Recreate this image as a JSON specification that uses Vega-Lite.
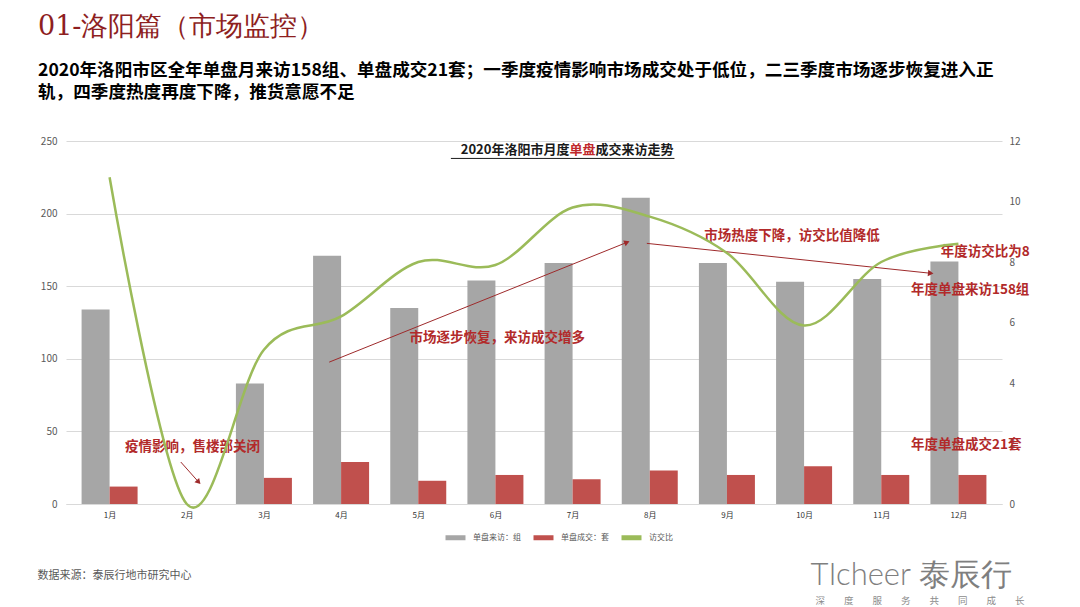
{
  "$schema": "https://vega.github.io/schema/vega-lite/v6.json",
  "width": 936,
  "height": 363,
  "autosize": {"type": "none"},
  "padding": {"left": 66, "top": 141, "right": 78, "bottom": 103},
  "background": "white",
  "config": {"view": {"stroke": null}, "font": "Noto Sans CJK SC"},
  "title": {
    "text": "01-洛阳篇（市场监控）",
    "subtitle": ["2020年洛阳市区全年单盘月来访158组、单盘成交21套；一季度疫情影响市场成交处于低位，二三季度市场逐步恢复进入正", "轨，四季度热度再度下降，推货意愿不足"],
    "anchor": "start",
    "frame": "group",
    "dx": -28,
    "offset": 33,
    "font": "DejaVu Serif",
    "fontSize": 27,
    "fontWeight": "normal",
    "color": "#8E1F1F",
    "subtitleFont": "Noto Sans CJK SC",
    "subtitleFontSize": 17.6,
    "subtitleFontWeight": "bold",
    "subtitleColor": "#000000",
    "subtitleLineHeight": 22,
    "subtitlePadding": 21
  },
  "datasets": {
    "monthly": [
      {"month": 1, "visits": 134, "deals": 12, "ratio": 10.8},
      {"month": 2, "visits": 0, "deals": 0, "ratio": 0},
      {"month": 3, "visits": 83, "deals": 18, "ratio": 5.1},
      {"month": 4, "visits": 171, "deals": 29, "ratio": 6.2},
      {"month": 5, "visits": 135, "deals": 16, "ratio": 8.0},
      {"month": 6, "visits": 154, "deals": 20, "ratio": 7.9},
      {"month": 7, "visits": 166, "deals": 17, "ratio": 9.8},
      {"month": 8, "visits": 211, "deals": 23, "ratio": 9.5},
      {"month": 9, "visits": 166, "deals": 20, "ratio": 8.3},
      {"month": 10, "visits": 153, "deals": 26, "ratio": 5.9},
      {"month": 11, "visits": 155, "deals": 20, "ratio": 8.0},
      {"month": 12, "visits": 167, "deals": 20, "ratio": 8.6}
    ],
    "notes": [
      {"label": "疫情影响，售楼部关闭", "month": 1.2, "value": 39.2},
      {"label": "市场逐步恢复，来访成交增多", "month": 4.885, "value": 114.2},
      {"label": "市场热度下降，访交比值降低", "month": 8.705, "value": 184.3},
      {"label": "年度访交比为8", "month": 11.77, "value": 173.3},
      {"label": "年度单盘来访158组", "month": 11.385, "value": 147.2},
      {"label": "年度单盘成交21套", "month": 11.385, "value": 40.6}
    ],
    "arrows": [
      {"month": 3.846, "value": 97.7, "month2": 7.705, "value2": 180.2},
      {"month": 7.962, "value": 179.5, "month2": 11.641, "value2": 158.9},
      {"month": 1.923, "value": 28.9, "month2": 2.154, "value2": 15.1}
    ],
    "heads1": [{"month": 7.705, "value": 180.2}],
    "heads2": [{"month": 11.641, "value": 158.9}],
    "heads3": [{"month": 2.154, "value": 15.1}],
    "chartTitleLeft": [{"label": "2020年洛阳市月度", "month": 7.128, "value": 243.5}],
    "chartTitleMid": [{"label": "单盘", "month": 7.128, "value": 243.5}],
    "chartTitleRight": [{"label": "成交来访走势", "month": 7.128, "value": 243.5}],
    "underline": [{"month": 5.423, "month2": 8.32, "value": 238}]
  },
  "layer": [
    {
      "layer": [
        {
          "data": {"name": "monthly"},
          "mark": {"type": "bar", "width": 28, "xOffset": -14},
          "encoding": {
            "x": {
              "field": "month", "type": "quantitative",
              "scale": {"domain": [0.5, 12.5], "nice": false, "zero": false},
              "axis": {
                "values": [1, 2, 3, 4, 5, 6, 7, 8, 9, 10, 11, 12],
                "labelExpr": "datum.value + '月'",
                "grid": false, "ticks": false, "domain": true, "domainColor": "#D9D9D9",
                "labelFontSize": 8, "labelColor": "#333333", "labelPadding": 7,
                "title": "数据来源：泰辰行地市研究中心",
                "titleAnchor": "start", "titleAlign": "left", "titleBaseline": "middle",
                "titleX": -29, "titleY": 71, "titleFontSize": 11, "titleFontWeight": "normal",
                "titleColor": "#595959"
              }
            },
            "y": {
              "field": "visits", "type": "quantitative",
              "scale": {"domain": [0, 250], "nice": false},
              "axis": {
                "values": [0, 50, 100, 150, 200, 250],
                "domain": false, "ticks": false, "grid": true, "gridColor": "#D9D9D9",
                "labelFontSize": 10, "labelColor": "#595959", "labelPadding": 9,
                "title": "深　　度　　服　　务　　共　　同　　成　　长",
                "titleAngle": 0, "titleAlign": "left", "titleBaseline": "middle",
                "titleX": 749, "titleY": 459, "titleFontSize": 9.5, "titleFontWeight": "normal",
                "titleColor": "#8C8C8C"
              }
            },
            "color": {
              "datum": "单盘来访：组",
              "scale": {
                "domain": ["单盘来访：组", "单盘成交：套", "访交比"],
                "range": ["#A6A6A6", "#C0504D", "#9BBB59"]
              },
              "legend": {
                "orient": "none", "legendX": 377, "legendY": 384,
                "direction": "horizontal", "title": null,
                "symbolType": "stroke", "symbolStrokeWidth": 5, "symbolSize": 400,
                "labelFontSize": 8, "labelColor": "#595959", "labelOffset": 5, "columnPadding": 2,
                "encode": {"symbols": {"update": {"stroke": {"scale": "color", "field": "value"}, "strokeWidth": {"value": 5}}}}
              }
            }
          }
        },
        {
          "data": {"name": "monthly"},
          "mark": {"type": "bar", "width": 28, "xOffset": 14},
          "encoding": {
            "x": {"field": "month", "type": "quantitative", "scale": {"domain": [0.5, 12.5], "nice": false, "zero": false}},
            "y": {"field": "deals", "type": "quantitative", "scale": {"domain": [0, 250], "nice": false}},
            "color": {"datum": "单盘成交：套"}
          }
        },
        {
          "mark": {"type": "rule", "strokeDash": [4, 3], "color": "#000000", "strokeWidth": 1},
          "encoding": {"y": {"datum": 156, "type": "quantitative", "scale": {"domain": [0, 250], "nice": false}}}
        },
        {
          "mark": {"type": "rule", "strokeDash": [4, 3], "color": "#000000", "strokeWidth": 1},
          "encoding": {"y": {"datum": 19.5, "type": "quantitative", "scale": {"domain": [0, 250], "nice": false}}}
        },
        {
          "data": {"name": "arrows"},
          "mark": {"type": "rule", "color": "#9E2A2B", "strokeWidth": 1},
          "encoding": {
            "x": {"field": "month", "type": "quantitative", "scale": {"domain": [0.5, 12.5], "nice": false, "zero": false}},
            "x2": {"field": "month2"},
            "y": {"field": "value", "type": "quantitative", "scale": {"domain": [0, 250], "nice": false}},
            "y2": {"field": "value2"}
          }
        },
        {
          "data": {"name": "heads1"},
          "mark": {"type": "point", "shape": "triangle-up", "filled": true, "size": 40, "angle": 68, "color": "#9E2A2B", "opacity": 1},
          "encoding": {
            "x": {"field": "month", "type": "quantitative", "scale": {"domain": [0.5, 12.5], "nice": false, "zero": false}},
            "y": {"field": "value", "type": "quantitative", "scale": {"domain": [0, 250], "nice": false}}
          }
        },
        {
          "data": {"name": "heads2"},
          "mark": {"type": "point", "shape": "triangle-up", "filled": true, "size": 40, "angle": 96, "color": "#9E2A2B", "opacity": 1},
          "encoding": {
            "x": {"field": "month", "type": "quantitative", "scale": {"domain": [0.5, 12.5], "nice": false, "zero": false}},
            "y": {"field": "value", "type": "quantitative", "scale": {"domain": [0, 250], "nice": false}}
          }
        },
        {
          "data": {"name": "heads3"},
          "mark": {"type": "point", "shape": "triangle-up", "filled": true, "size": 40, "angle": 138, "color": "#9E2A2B", "opacity": 1},
          "encoding": {
            "x": {"field": "month", "type": "quantitative", "scale": {"domain": [0.5, 12.5], "nice": false, "zero": false}},
            "y": {"field": "value", "type": "quantitative", "scale": {"domain": [0, 250], "nice": false}}
          }
        },
        {
          "data": {"name": "notes"},
          "mark": {"type": "text", "align": "left", "baseline": "middle", "fontSize": 13.5, "fontWeight": "bold", "color": "#B22A2A"},
          "encoding": {
            "x": {"field": "month", "type": "quantitative", "scale": {"domain": [0.5, 12.5], "nice": false, "zero": false}},
            "y": {"field": "value", "type": "quantitative", "scale": {"domain": [0, 250], "nice": false}},
            "text": {"field": "label"}
          }
        },
        {
          "data": {"name": "chartTitleLeft"},
          "mark": {"type": "text", "align": "right", "baseline": "middle", "dx": -13, "fontSize": 13, "fontWeight": "bold", "color": "#1A1A1A"},
          "encoding": {
            "x": {"field": "month", "type": "quantitative", "scale": {"domain": [0.5, 12.5], "nice": false, "zero": false}},
            "y": {"field": "value", "type": "quantitative", "scale": {"domain": [0, 250], "nice": false}},
            "text": {"field": "label"}
          }
        },
        {
          "data": {"name": "chartTitleMid"},
          "mark": {"type": "text", "align": "center", "baseline": "middle", "fontSize": 13, "fontWeight": "bold", "color": "#C0282B"},
          "encoding": {
            "x": {"field": "month", "type": "quantitative", "scale": {"domain": [0.5, 12.5], "nice": false, "zero": false}},
            "y": {"field": "value", "type": "quantitative", "scale": {"domain": [0, 250], "nice": false}},
            "text": {"field": "label"}
          }
        },
        {
          "data": {"name": "chartTitleRight"},
          "mark": {"type": "text", "align": "left", "baseline": "middle", "dx": 13, "fontSize": 13, "fontWeight": "bold", "color": "#1A1A1A"},
          "encoding": {
            "x": {"field": "month", "type": "quantitative", "scale": {"domain": [0.5, 12.5], "nice": false, "zero": false}},
            "y": {"field": "value", "type": "quantitative", "scale": {"domain": [0, 250], "nice": false}},
            "text": {"field": "label"}
          }
        },
        {
          "data": {"name": "underline"},
          "mark": {"type": "rule", "color": "#1A1A1A", "strokeWidth": 1},
          "encoding": {
            "x": {"field": "month", "type": "quantitative", "scale": {"domain": [0.5, 12.5], "nice": false, "zero": false}},
            "x2": {"field": "month2"},
            "y": {"field": "value", "type": "quantitative", "scale": {"domain": [0, 250], "nice": false}}
          }
        }
      ]
    },
    {
      "layer": [
        {
          "data": {"name": "monthly"},
          "mark": {"type": "line", "interpolate": "cardinal", "strokeWidth": 2.5},
          "encoding": {
            "x": {"field": "month", "type": "quantitative", "scale": {"domain": [0.5, 12.5], "nice": false, "zero": false}},
            "y": {
              "field": "ratio", "type": "quantitative",
              "scale": {"domain": [0, 12], "nice": false},
              "axis": {
                "orient": "right",
                "values": [0, 2, 4, 6, 8, 10, 12],
                "domain": false, "ticks": false, "grid": false,
                "labelFontSize": 10, "labelColor": "#595959", "labelPadding": 7,
                "title": "TIcheer 泰辰行",
                "titleAngle": 0, "titleAlign": "left", "titleBaseline": "middle",
                "titleX": -192, "titleY": 434, "titleFont": "Lato", "titleFontSize": 31,
                "titleFontWeight": 300, "titleColor": "#7F7F7F"
              }
            },
            "color": {"datum": "访交比"}
          }
        },
        {
          "mark": {"type": "rule", "strokeDash": [4, 3], "color": "#000000", "strokeWidth": 1},
          "encoding": {"y": {"datum": 7.9, "type": "quantitative", "scale": {"domain": [0, 12], "nice": false}}}
        }
      ]
    }
  ],
  "resolve": {"scale": {"y": "independent"}}
}
